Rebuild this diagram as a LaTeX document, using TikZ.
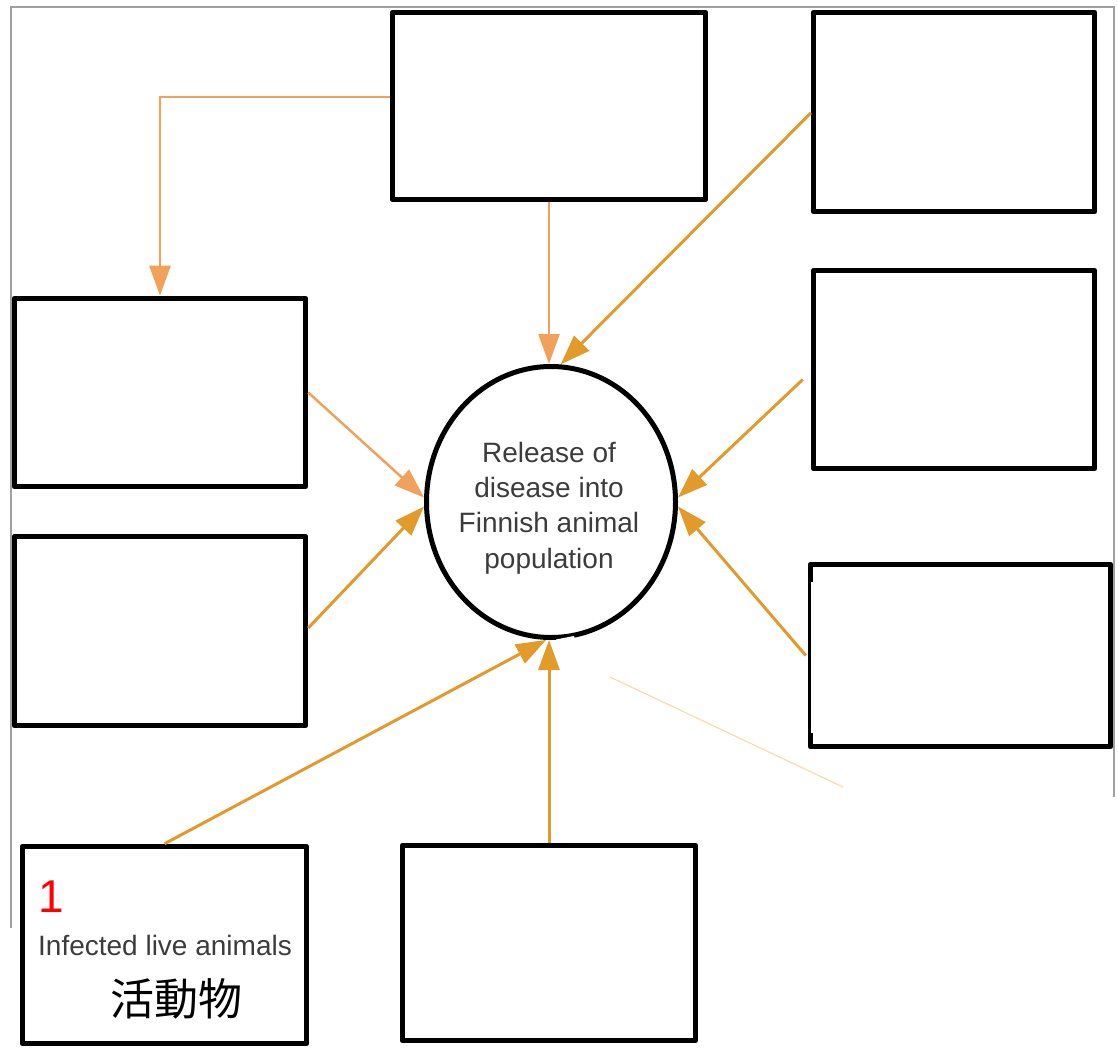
\documentclass[tikz,border=0pt]{standalone}
\usepackage{fontspec}
\setmainfont{Liberation Sans}
\newfontfamily\cjkfont{Noto Sans CJK TC}
\usetikzlibrary{arrows.meta,shapes.geometric}

\definecolor{lightorange}{RGB}{240,162,92}
\definecolor{darkorange}{RGB}{226,154,42}
\definecolor{labelgray}{RGB}{60,60,60}
\definecolor{framegray}{RGB}{160,160,160}
\definecolor{fadedorange}{RGB}{252,218,168}

\tikzset{
  box/.style={draw=black, line width=5.5pt, line join=round, inner sep=0pt},
  hub/.style={ellipse, draw=black, line width=5pt, inner sep=0pt,
              minimum width=249pt, minimum height=271pt},
  feedlight/.style={draw=lightorange, line width=2.5pt,
              -{Triangle[length=30pt,width=21pt]}},
  feeddark/.style={draw=darkorange, line width=3pt,
              -{Triangle[length=30pt,width=21pt]}},
  txt/.style={text=labelgray, font=\fontsize{28}{35.3}\selectfont, inner sep=0pt},
}

\begin{document}
\begin{tikzpicture}[x=1pt, y=-1pt]
  \useasboundingbox (0,0) rectangle (1118,1048);

  % thin outer frame (open at the bottom)
  \draw[framegray, line width=1.5pt] (11,928) -- (11,7) -- (1114,7) -- (1114,797);

  % source boxes
  \node[box, minimum width=313pt, minimum height=187pt] (T)  at (549,106) {};
  \node[box, minimum width=281pt, minimum height=199pt] (TR) at (954,112) {};
  \node[box, minimum width=281pt, minimum height=198pt] (RM) at (954,369.5) {};
  \node[box, minimum width=300pt, minimum height=182pt] (RL) at (960.5,655.5) {};
  \node[box, minimum width=291pt, minimum height=188pt] (LT) at (160,392.5) {};
  \node[box, minimum width=291pt, minimum height=189pt] (LL) at (160,631) {};
  \node[box, minimum width=284pt, minimum height=197pt] (BL) at (164.5,945) {};
  \node[box, minimum width=293pt, minimum height=195pt] (BC) at (549,943) {};

  % central event
  \node[hub] (C) at (551,502) {};
  \node[txt, align=center] (Ctext) at (549,508)
    {Release of\\disease into\\Finnish animal\\population};

  % labels in the first source box
  \node[text=red, font=\fontsize{46}{46}\selectfont, inner sep=0pt, anchor=base west]
    (num) at (38,912) {1};
  \node[txt, anchor=base] (BLtext) at (165,955) {Infected live animals};
  \node[font=\cjkfont\fontsize{44}{44}\selectfont, inner sep=0pt] (BLcjk) at (176,999) {活動物};

  % connectors
  \draw[feedlight] ([yshift=9pt]T.west) -| (LT.north);
  \draw[feedlight] (T.south) -- (T.south |- C.north);
  \draw[feeddark]  ([yshift=-1pt]TR.west) -- (C.86);
  \draw[feeddark]  ([xshift=-8pt,yshift=-10pt]RM.west) -- (C.2);
  \draw[feeddark]  ([xshift=-2pt]RL.west) -- (C.-2);
  \draw[feedlight] (LT.east) -- (C.178);
  \draw[feeddark]  ([yshift=3pt]LL.east) -- (C.182);
  \draw[feeddark]  (BL.north) -- (C.-92);
  \draw[feeddark]  (BC.north) -- (BC.north |- C.south);

  % faded stroke and cleared patches
  \coordinate (fadeA) at (610,677);
  \coordinate (fadeB) at (843,787);
  \draw[fadedorange, line width=1.2pt] (fadeA) -- (fadeB);
  \fill[white] (556,639.5) -- (574,636) -- (580,656) -- (559,656) -- cycle;
  \fill[white] (811,582) rectangle (814,733);
\end{tikzpicture}
\end{document}
